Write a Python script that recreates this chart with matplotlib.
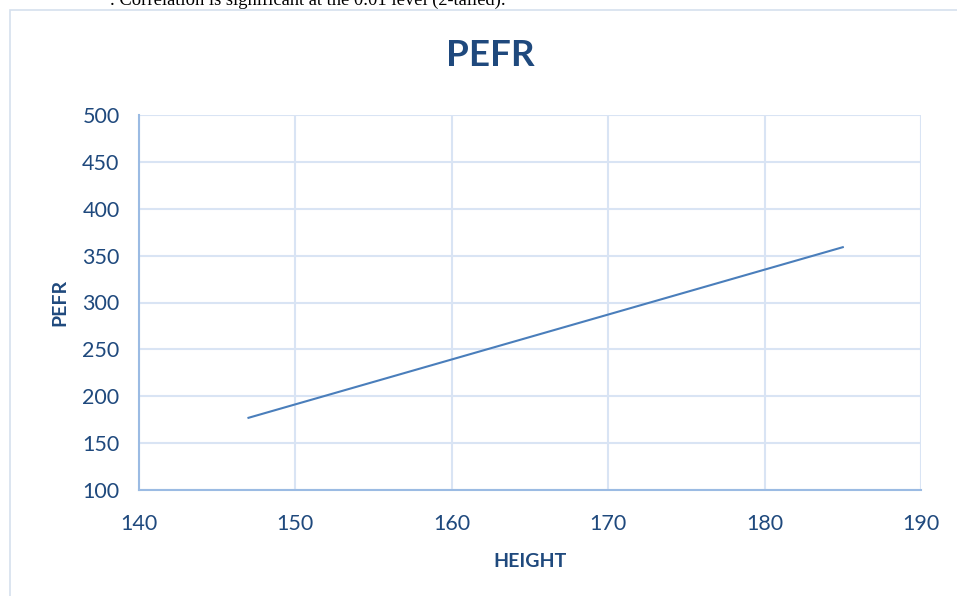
import matplotlib
matplotlib.use("Agg")
import matplotlib.pyplot as plt
from matplotlib.patches import Rectangle

height = [147, 185]
pefr = [177, 359]
x_ticks = [140, 150, 160, 170, 180, 190]
y_ticks = [100, 150, 200, 250, 300, 350, 400, 450, 500]

W, H = 957, 596
fig = plt.figure(figsize=(W / 100, H / 100), dpi=100)
fig.patch.set_facecolor("white")

# outer chart border
fig.add_artist(Rectangle((10 / W, -0.1), 1.2, 1 - 10 / H + 0.1, transform=fig.transFigure,
                         fill=False, edgecolor="#D6E0EE", linewidth=1.2))

# cut-off text at top
fig.text(110 / W, 1 - 5 / H, ". Correlation is significant at the 0.01 level (2-tailed).",
         family="Liberation Serif", fontsize=13.3, color="black", va="baseline", ha="left")

left, right, top, bottom = 139, 921, 115, 490
ax = fig.add_axes([left / W, 1 - bottom / H, (right - left) / W, (bottom - top) / H])
ax.plot(height, pefr, color="#4A7EBB", linewidth=1.5)
ax.set_xlim(140, 190)
ax.set_ylim(100, 500)
ax.set_xticks(x_ticks)
ax.set_yticks(y_ticks)
ax.grid(True, color="#D9E4F4", linewidth=1.5)
ax.set_axisbelow(True)
for s in ["top", "right"]:
    ax.spines[s].set_visible(False)
for s in ["left", "bottom"]:
    ax.spines[s].set_color("#9BBBE3")
    ax.spines[s].set_linewidth(1.5)
ax.tick_params(length=0, labelsize=15.5, labelcolor="#1F497D")
ax.tick_params(axis="y", pad=14)
ax.tick_params(axis="x", pad=17)
for lab in ax.get_xticklabels() + ax.get_yticklabels():
    lab.set_family("Lato")

ax.set_xlabel("HEIGHT", fontsize=14, fontweight="bold", color="#1F497D", family="Lato", labelpad=14)
ax.set_ylabel("PEFR", fontsize=14, fontweight="bold", color="#1F497D", family="Lato", labelpad=10)
fig.text(490 / W, 1 - 56 / H, "PEFR", fontsize=26.5, fontweight="bold", color="#1F497D",
         family="Lato", ha="center", va="center")

fig.savefig("out.png", dpi=100)
